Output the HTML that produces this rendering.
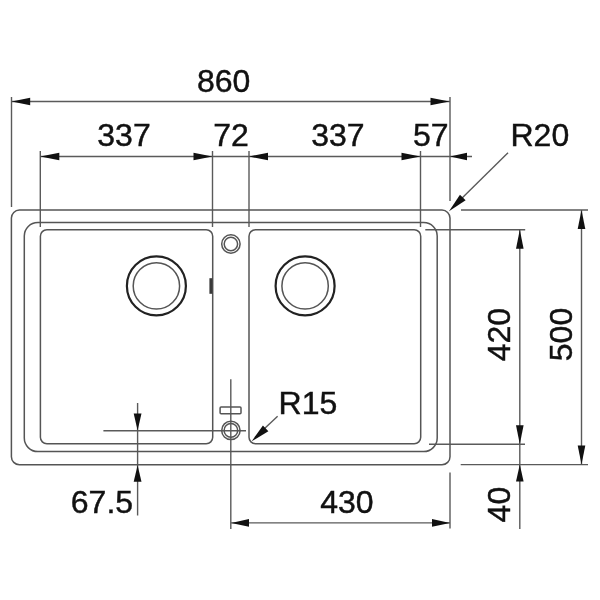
<!DOCTYPE html>
<html><head><meta charset="utf-8"><style>
html,body{margin:0;padding:0;background:#fff;width:600px;height:600px;overflow:hidden}
svg{position:absolute;left:0;top:0;will-change:transform}
text{font-family:"Liberation Sans",sans-serif;font-size:32px;fill:#111;stroke:#111;stroke-width:0.45}
</style></head><body>
<svg width="600" height="600" viewBox="0 0 600 600">
<g stroke="#5a5a5a" stroke-width="1.4" fill="none">
<line x1="11.5" y1="97" x2="11.5" y2="207"/>
<line x1="450" y1="97" x2="450" y2="201"/>
<line x1="11.5" y1="101.5" x2="450" y2="101.5"/>
<line x1="40.3" y1="151" x2="40.3" y2="227"/>
<line x1="212.5" y1="151" x2="212.5" y2="227"/>
<line x1="249" y1="151" x2="249" y2="227"/>
<line x1="420.5" y1="151" x2="420.5" y2="227"/>
<line x1="40.3" y1="156.5" x2="472" y2="156.5"/>
<line x1="508" y1="152.7" x2="455" y2="205"/>
<line x1="461" y1="210" x2="588" y2="210"/>
<line x1="425.3" y1="229.8" x2="525.2" y2="229.8"/>
<line x1="429" y1="444.2" x2="525" y2="444.2"/>
<line x1="460.7" y1="464.6" x2="588" y2="464.6"/>
<line x1="581.5" y1="210" x2="581.5" y2="464.6"/>
<line x1="519.8" y1="229.8" x2="519.8" y2="529"/>
<line x1="230.8" y1="379.3" x2="230.8" y2="529"/>
<line x1="450" y1="472.4" x2="450" y2="528.6"/>
<line x1="230.8" y1="522.9" x2="450" y2="522.9"/>
<line x1="103.4" y1="430.8" x2="246" y2="430.8"/>
<line x1="137.6" y1="403" x2="137.6" y2="515.5"/>
<line x1="277.6" y1="416.3" x2="255" y2="437.5"/>
</g>
<g stroke="#555555" stroke-width="1.5" fill="none">
<rect x="11.4" y="210.1" width="438.6" height="254.6" rx="8" ry="8"/>
<rect x="24.3" y="222.5" width="412.9" height="229.1" rx="13.5" ry="13.5"/>
<rect x="40.4" y="229.7" width="172.3" height="214.1" rx="6.5" ry="6.5"/>
<rect x="249" y="229.7" width="171.7" height="214.1" rx="6.5" ry="6.5"/>
<circle cx="230.9" cy="244" r="9.2"/>
<circle cx="230.9" cy="244" r="6.7"/>
<circle cx="230.9" cy="430.4" r="9.2"/>
<circle cx="230.9" cy="430.4" r="6.8"/>
<rect x="220.1" y="407.1" width="20.9" height="6.7" rx="1"/>
<circle cx="156.4" cy="285.9" r="23.2"/>
<circle cx="305.1" cy="285.9" r="23.2"/>
</g>
<g stroke="#222" stroke-width="2.2" fill="none">
<circle cx="156.4" cy="285.9" r="29.5"/>
<circle cx="305.1" cy="285.9" r="29.5"/>
</g>
<rect x="209.4" y="278.2" width="3" height="15.6" fill="#3a3a3a"/>
<g fill="#111" stroke="none">
<polygon points="11.60,101.50 30.20,97.80 30.20,105.20"/>
<polygon points="449.50,101.50 430.50,105.30 430.50,97.70"/>
<polygon points="40.30,156.50 59.30,152.70 59.30,160.30"/>
<polygon points="212.50,156.50 193.50,160.30 193.50,152.70"/>
<polygon points="249.00,156.50 268.00,152.70 268.00,160.30"/>
<polygon points="420.50,156.50 401.50,160.30 401.50,152.70"/>
<polygon points="450.00,156.50 467.00,152.70 467.00,160.30"/>
<polygon points="449.00,211.30 459.96,194.68 465.62,200.34"/>
<polygon points="581.50,210.00 585.30,229.00 577.70,229.00"/>
<polygon points="581.50,464.60 577.70,445.60 585.30,445.60"/>
<polygon points="519.80,229.80 523.60,248.80 516.00,248.80"/>
<polygon points="519.80,444.20 516.00,425.20 523.60,425.20"/>
<polygon points="519.80,464.60 523.60,481.60 516.00,481.60"/>
<polygon points="137.60,430.40 133.70,413.40 141.50,413.40"/>
<polygon points="137.60,465.20 141.50,481.70 133.70,481.70"/>
<polygon points="231.20,522.90 249.00,519.00 249.00,526.80"/>
<polygon points="450.00,522.90 432.00,526.80 432.00,519.00"/>
<polygon points="251.70,441.30 262.92,425.46 268.36,431.33"/>
</g>
<text x="197" y="92.4">860</text>
<text x="97.3" y="145.6">337</text>
<text x="213.3" y="146">72</text>
<text x="311.2" y="146">337</text>
<text x="413" y="146.2">57</text>
<text x="510.5" y="145.8">R20</text>
<text x="278.6" y="413.7">R15</text>
<text x="70.8" y="512.7">67.5</text>
<text x="320.2" y="512.5">430</text>
<text transform="translate(510,361.3) rotate(-90)">420</text>
<text transform="translate(572.2,361.2) rotate(-90)">500</text>
<text transform="translate(510,522.4) rotate(-90)">40</text>
</svg>
</body></html>
